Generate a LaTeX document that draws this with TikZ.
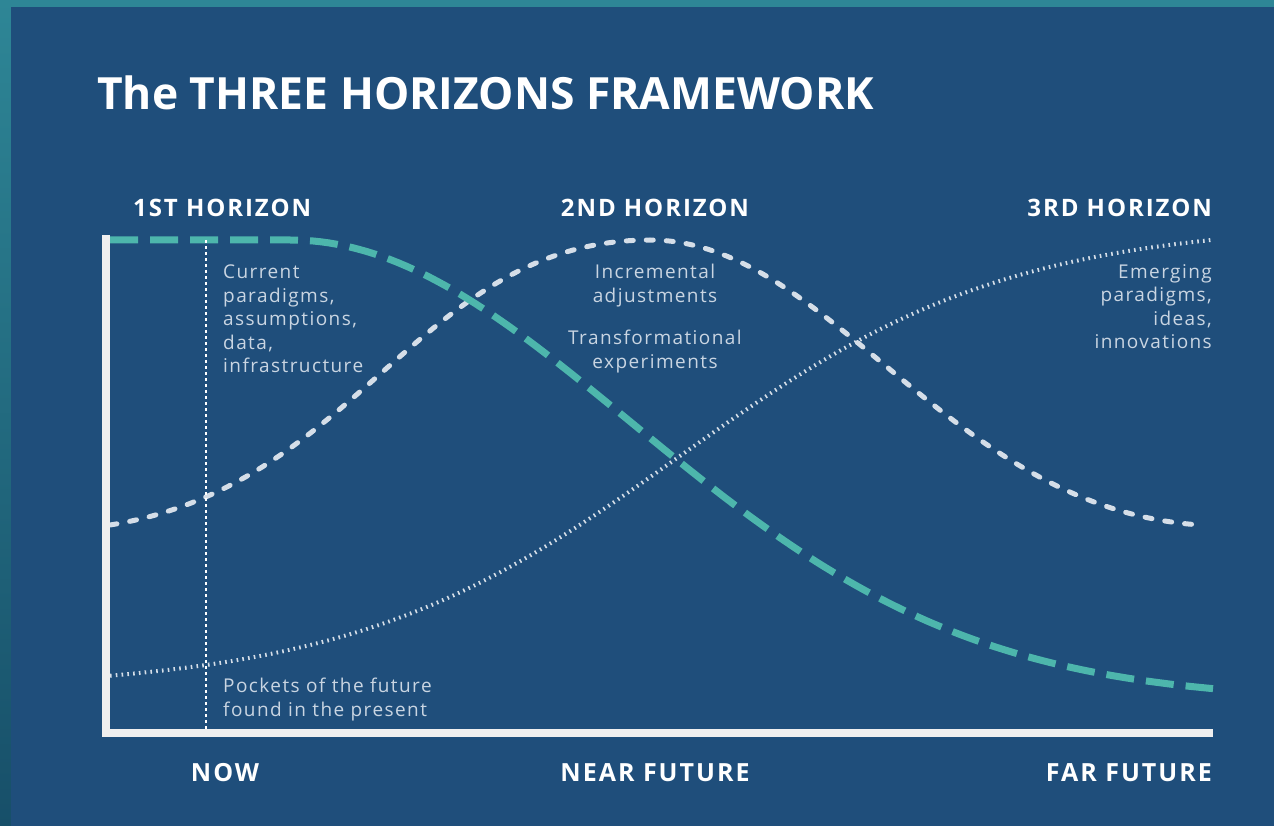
\documentclass[tikz,border=0pt]{standalone}
\usepackage{fontspec}
\setmainfont{Open Sans}
\newfontfamily\noteface{Open Sans}[LetterSpace=7.5]
\newfontfamily\capsface{Open Sans}[LetterSpace=8]
\usepackage{tikz}
\definecolor{bgblue}{HTML}{1F4E7B}
\definecolor{edgeteal}{HTML}{2E8696}
\definecolor{edgedark}{HTML}{174F69}
\definecolor{curveteal}{HTML}{4DB6AC}
\definecolor{curvegrey}{HTML}{D5DEE8}
\definecolor{axiswhite}{HTML}{EFEFEF}
\definecolor{textgrey}{HTML}{C9D5E2}
\tikzstyle{title} = [white,font=\fontsize{44.4}{54}\selectfont\bfseries,inner sep=0pt]
\tikzstyle{horizon} = [white,font=\fontsize{24}{29}\selectfont\capsface\bfseries,inner sep=0pt]
\tikzstyle{timeline} = [white,font=\fontsize{25}{30}\selectfont\capsface\bfseries,inner sep=0pt]
\tikzstyle{note} = [textgrey,font=\fontsize{19}{23.5}\selectfont\noteface,inner sep=0pt]
\tikzstyle{axis} = [axiswhite,line width=8pt]
\tikzstyle{nowline} = [white,line width=2pt,dash pattern=on 3pt off 3pt]
\tikzstyle{firsth} = [curveteal,line width=7pt,dash pattern=on 28pt off 12pt]
\tikzstyle{secondh} = [curvegrey,line width=5pt,line cap=round,dash pattern=on 7pt off 13pt]
\tikzstyle{thirdh} = [curvegrey,line width=4pt,dash pattern=on 1.6pt off 4.2pt]

\begin{document}
\begin{tikzpicture}[x=1pt, y=-1pt]
    % background and frame
    \useasboundingbox (0,0) rectangle (1274,826);
    \fill[edgeteal] (0,0) rectangle (1274,826);
    \shade[top color=edgeteal, bottom color=edgedark] (0,0) rectangle (11,826);
    \fill[bgblue] (11,7) rectangle (1274,826);

    % titles
    \node[title, anchor=base west] (title) at (97,110) {The THREE HORIZONS FRAMEWORK};
    \node[horizon, anchor=base west] (h1) at (133,217) {1ST HORIZON};
    \node[horizon, anchor=base] (h2) at (655,217) {2ND HORIZON};
    \node[horizon, anchor=base east] (h3) at (1212,217) {3RD HORIZON};

    % notes
    \node[note, anchor=north west, align=left] (current) at (223,265)
        {Current\\ paradigms,\\ assumptions,\\ data,\\ infrastructure};
    \node[note, anchor=north, align=center] (incr) at (655,264)
        {Incremental\\ adjustments};
    \node[note, anchor=north, align=center] (transf) at (655,330)
        {Transformational\\ experiments};
    \node[note, anchor=north east, align=right] (emerg) at (1212,264)
        {Emerging\\ paradigms,\\ ideas,\\ innovations};
    \node[note, anchor=north west, align=left] (pockets) at (223,678)
        {Pockets of the future\\ found in the present};

    % time axis labels
    \node[timeline, anchor=base] (now) at (225,781) {NOW};
    \node[timeline, anchor=base] (near) at (655,781) {NEAR FUTURE};
    \node[timeline, anchor=base east] (far) at (1212,781) {FAR FUTURE};

    % now the curves
    \draw[thirdh] plot[domain=110:1212, samples=120]
        (\x, {222 + 468/(1+exp((\x-680)/165))});
    \draw[secondh] (110,525) .. controls (360,485) and (420,240) .. (650,240)
        .. controls (830,240) and (950,510) .. (1201,525);
    \draw[firsth] (110,240) -- (290,240) -- plot[domain=290:1213, samples=120]
        (\x, {240 + 460*(1-exp(-((\x-290)/480)^2))});

    % axes and the now line
    \coordinate (ytop) at (106,235);
    \coordinate (origin) at (106,733);
    \coordinate (xend) at (1213,733);
    \coordinate (nowtop) at (206,240);
    \coordinate (nowbot) at (206,729);
    \draw[nowline] (nowtop) -- (nowbot);
    \draw[axis] (ytop) -- (origin) -- (xend);
\end{tikzpicture}
\end{document}
